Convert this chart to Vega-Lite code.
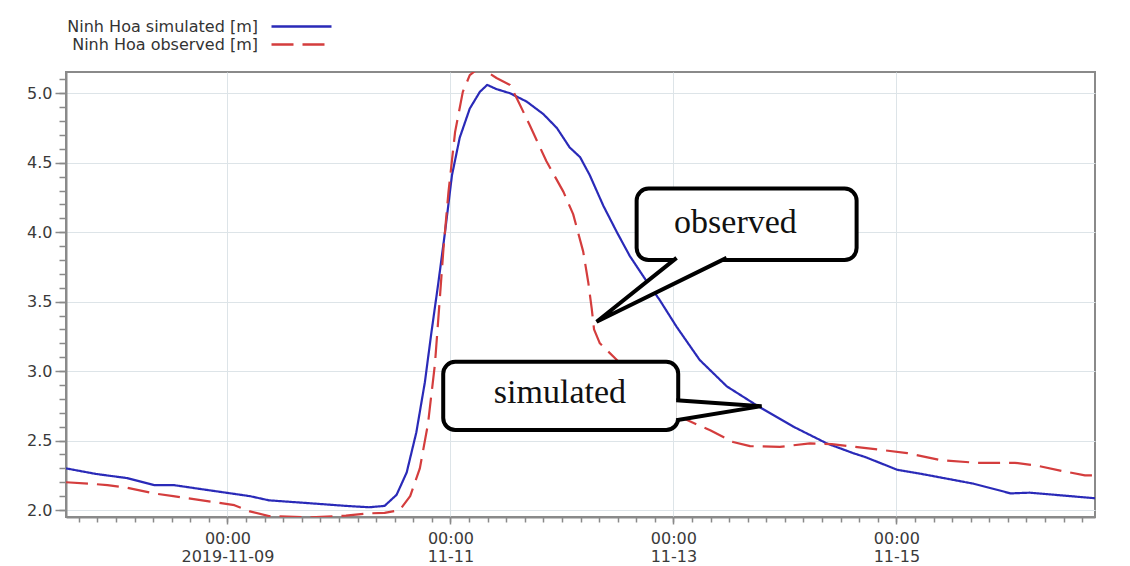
{
  "$schema": "https://vega.github.io/schema/vega-lite/v6.json",
  "width": 1029,
  "height": 445,
  "autosize": {"type": "none"},
  "padding": {"left": 66, "top": 72, "right": 35, "bottom": 49},
  "background": "white",
  "datasets": {
    "series": [
      {"time": "2019-11-07T13:15:00Z", "value": 2.30, "series": "Ninh Hoa simulated [m]"},
      {"time": "2019-11-07T19:40:00Z", "value": 2.26, "series": "Ninh Hoa simulated [m]"},
      {"time": "2019-11-08T02:25:00Z", "value": 2.23, "series": "Ninh Hoa simulated [m]"},
      {"time": "2019-11-08T08:10:00Z", "value": 2.18, "series": "Ninh Hoa simulated [m]"},
      {"time": "2019-11-08T12:20:00Z", "value": 2.18, "series": "Ninh Hoa simulated [m]"},
      {"time": "2019-11-08T20:35:00Z", "value": 2.14, "series": "Ninh Hoa simulated [m]"},
      {"time": "2019-11-09T04:50:00Z", "value": 2.10, "series": "Ninh Hoa simulated [m]"},
      {"time": "2019-11-09T08:55:00Z", "value": 2.07, "series": "Ninh Hoa simulated [m]"},
      {"time": "2019-11-09T17:20:00Z", "value": 2.05, "series": "Ninh Hoa simulated [m]"},
      {"time": "2019-11-10T01:30:00Z", "value": 2.03, "series": "Ninh Hoa simulated [m]"},
      {"time": "2019-11-10T06:30:00Z", "value": 2.02, "series": "Ninh Hoa simulated [m]"},
      {"time": "2019-11-10T09:50:00Z", "value": 2.03, "series": "Ninh Hoa simulated [m]"},
      {"time": "2019-11-10T12:25:00Z", "value": 2.11, "series": "Ninh Hoa simulated [m]"},
      {"time": "2019-11-10T14:35:00Z", "value": 2.27, "series": "Ninh Hoa simulated [m]"},
      {"time": "2019-11-10T16:40:00Z", "value": 2.56, "series": "Ninh Hoa simulated [m]"},
      {"time": "2019-11-10T18:30:00Z", "value": 2.92, "series": "Ninh Hoa simulated [m]"},
      {"time": "2019-11-10T19:55:00Z", "value": 3.28, "series": "Ninh Hoa simulated [m]"},
      {"time": "2019-11-10T21:25:00Z", "value": 3.64, "series": "Ninh Hoa simulated [m]"},
      {"time": "2019-11-10T22:50:00Z", "value": 4.00, "series": "Ninh Hoa simulated [m]"},
      {"time": "2019-11-11T00:20:00Z", "value": 4.41, "series": "Ninh Hoa simulated [m]"},
      {"time": "2019-11-11T02:00:00Z", "value": 4.68, "series": "Ninh Hoa simulated [m]"},
      {"time": "2019-11-11T04:10:00Z", "value": 4.89, "series": "Ninh Hoa simulated [m]"},
      {"time": "2019-11-11T06:20:00Z", "value": 5.01, "series": "Ninh Hoa simulated [m]"},
      {"time": "2019-11-11T07:55:00Z", "value": 5.06, "series": "Ninh Hoa simulated [m]"},
      {"time": "2019-11-11T09:55:00Z", "value": 5.03, "series": "Ninh Hoa simulated [m]"},
      {"time": "2019-11-11T12:50:00Z", "value": 5.00, "series": "Ninh Hoa simulated [m]"},
      {"time": "2019-11-11T16:25:00Z", "value": 4.94, "series": "Ninh Hoa simulated [m]"},
      {"time": "2019-11-11T20:00:00Z", "value": 4.85, "series": "Ninh Hoa simulated [m]"},
      {"time": "2019-11-11T22:55:00Z", "value": 4.75, "series": "Ninh Hoa simulated [m]"},
      {"time": "2019-11-12T01:40:00Z", "value": 4.61, "series": "Ninh Hoa simulated [m]"},
      {"time": "2019-11-12T03:55:00Z", "value": 4.54, "series": "Ninh Hoa simulated [m]"},
      {"time": "2019-11-12T06:00:00Z", "value": 4.41, "series": "Ninh Hoa simulated [m]"},
      {"time": "2019-11-12T08:55:00Z", "value": 4.19, "series": "Ninh Hoa simulated [m]"},
      {"time": "2019-11-12T11:50:00Z", "value": 4.00, "series": "Ninh Hoa simulated [m]"},
      {"time": "2019-11-12T14:35:00Z", "value": 3.83, "series": "Ninh Hoa simulated [m]"},
      {"time": "2019-11-12T18:10:00Z", "value": 3.65, "series": "Ninh Hoa simulated [m]"},
      {"time": "2019-11-12T21:05:00Z", "value": 3.51, "series": "Ninh Hoa simulated [m]"},
      {"time": "2019-11-13T00:40:00Z", "value": 3.32, "series": "Ninh Hoa simulated [m]"},
      {"time": "2019-11-13T05:40:00Z", "value": 3.08, "series": "Ninh Hoa simulated [m]"},
      {"time": "2019-11-13T11:30:00Z", "value": 2.89, "series": "Ninh Hoa simulated [m]"},
      {"time": "2019-11-13T18:35:00Z", "value": 2.74, "series": "Ninh Hoa simulated [m]"},
      {"time": "2019-11-14T01:50:00Z", "value": 2.60, "series": "Ninh Hoa simulated [m]"},
      {"time": "2019-11-14T09:00:00Z", "value": 2.48, "series": "Ninh Hoa simulated [m]"},
      {"time": "2019-11-14T14:40:00Z", "value": 2.41, "series": "Ninh Hoa simulated [m]"},
      {"time": "2019-11-14T17:25:00Z", "value": 2.38, "series": "Ninh Hoa simulated [m]"},
      {"time": "2019-11-15T00:10:00Z", "value": 2.29, "series": "Ninh Hoa simulated [m]"},
      {"time": "2019-11-15T05:25:00Z", "value": 2.26, "series": "Ninh Hoa simulated [m]"},
      {"time": "2019-11-15T16:35:00Z", "value": 2.19, "series": "Ninh Hoa simulated [m]"},
      {"time": "2019-11-16T00:35:00Z", "value": 2.12, "series": "Ninh Hoa simulated [m]"},
      {"time": "2019-11-16T04:40:00Z", "value": 2.125, "series": "Ninh Hoa simulated [m]"},
      {"time": "2019-11-16T13:30:00Z", "value": 2.10, "series": "Ninh Hoa simulated [m]"},
      {"time": "2019-11-16T18:45:00Z", "value": 2.085, "series": "Ninh Hoa simulated [m]"},
      {"time": "2019-11-07T13:15:00Z", "value": 2.20, "series": "Ninh Hoa observed  [m]"},
      {"time": "2019-11-07T18:05:00Z", "value": 2.19, "series": "Ninh Hoa observed  [m]"},
      {"time": "2019-11-07T22:10:00Z", "value": 2.18, "series": "Ninh Hoa observed  [m]"},
      {"time": "2019-11-08T02:25:00Z", "value": 2.16, "series": "Ninh Hoa observed  [m]"},
      {"time": "2019-11-08T08:10:00Z", "value": 2.12, "series": "Ninh Hoa observed  [m]"},
      {"time": "2019-11-08T12:20:00Z", "value": 2.10, "series": "Ninh Hoa observed  [m]"},
      {"time": "2019-11-08T20:35:00Z", "value": 2.06, "series": "Ninh Hoa observed  [m]"},
      {"time": "2019-11-09T01:30:00Z", "value": 2.035, "series": "Ninh Hoa observed  [m]"},
      {"time": "2019-11-09T04:50:00Z", "value": 1.99, "series": "Ninh Hoa observed  [m]"},
      {"time": "2019-11-09T08:55:00Z", "value": 1.957, "series": "Ninh Hoa observed  [m]"},
      {"time": "2019-11-09T17:20:00Z", "value": 1.947, "series": "Ninh Hoa observed  [m]"},
      {"time": "2019-11-10T01:30:00Z", "value": 1.96, "series": "Ninh Hoa observed  [m]"},
      {"time": "2019-11-10T06:30:00Z", "value": 1.976, "series": "Ninh Hoa observed  [m]"},
      {"time": "2019-11-10T09:50:00Z", "value": 1.98, "series": "Ninh Hoa observed  [m]"},
      {"time": "2019-11-10T13:05:00Z", "value": 2.00, "series": "Ninh Hoa observed  [m]"},
      {"time": "2019-11-10T15:20:00Z", "value": 2.10, "series": "Ninh Hoa observed  [m]"},
      {"time": "2019-11-10T17:25:00Z", "value": 2.30, "series": "Ninh Hoa observed  [m]"},
      {"time": "2019-11-10T19:10:00Z", "value": 2.62, "series": "Ninh Hoa observed  [m]"},
      {"time": "2019-11-10T20:40:00Z", "value": 3.05, "series": "Ninh Hoa observed  [m]"},
      {"time": "2019-11-10T21:40:00Z", "value": 3.50, "series": "Ninh Hoa observed  [m]"},
      {"time": "2019-11-10T22:30:00Z", "value": 3.88, "series": "Ninh Hoa observed  [m]"},
      {"time": "2019-11-10T23:35:00Z", "value": 4.29, "series": "Ninh Hoa observed  [m]"},
      {"time": "2019-11-11T01:00:00Z", "value": 4.72, "series": "Ninh Hoa observed  [m]"},
      {"time": "2019-11-11T02:40:00Z", "value": 5.01, "series": "Ninh Hoa observed  [m]"},
      {"time": "2019-11-11T04:10:00Z", "value": 5.13, "series": "Ninh Hoa observed  [m]"},
      {"time": "2019-11-11T05:40:00Z", "value": 5.17, "series": "Ninh Hoa observed  [m]"},
      {"time": "2019-11-11T07:35:00Z", "value": 5.16, "series": "Ninh Hoa observed  [m]"},
      {"time": "2019-11-11T09:55:00Z", "value": 5.11, "series": "Ninh Hoa observed  [m]"},
      {"time": "2019-11-11T12:50:00Z", "value": 5.06, "series": "Ninh Hoa observed  [m]"},
      {"time": "2019-11-11T14:20:00Z", "value": 4.96, "series": "Ninh Hoa observed  [m]"},
      {"time": "2019-11-11T17:05:00Z", "value": 4.77, "series": "Ninh Hoa observed  [m]"},
      {"time": "2019-11-11T20:40:00Z", "value": 4.51, "series": "Ninh Hoa observed  [m]"},
      {"time": "2019-11-12T00:20:00Z", "value": 4.29, "series": "Ninh Hoa observed  [m]"},
      {"time": "2019-11-12T02:25:00Z", "value": 4.13, "series": "Ninh Hoa observed  [m]"},
      {"time": "2019-11-12T04:35:00Z", "value": 3.86, "series": "Ninh Hoa observed  [m]"},
      {"time": "2019-11-12T05:40:00Z", "value": 3.64, "series": "Ninh Hoa observed  [m]"},
      {"time": "2019-11-12T06:25:00Z", "value": 3.45, "series": "Ninh Hoa observed  [m]"},
      {"time": "2019-11-12T06:55:00Z", "value": 3.30, "series": "Ninh Hoa observed  [m]"},
      {"time": "2019-11-12T08:10:00Z", "value": 3.20, "series": "Ninh Hoa observed  [m]"},
      {"time": "2019-11-12T11:50:00Z", "value": 3.08, "series": "Ninh Hoa observed  [m]"},
      {"time": "2019-11-12T18:55:00Z", "value": 2.83, "series": "Ninh Hoa observed  [m]"},
      {"time": "2019-11-13T02:50:00Z", "value": 2.65, "series": "Ninh Hoa observed  [m]"},
      {"time": "2019-11-13T06:05:00Z", "value": 2.60, "series": "Ninh Hoa observed  [m]"},
      {"time": "2019-11-13T07:55:00Z", "value": 2.575, "series": "Ninh Hoa observed  [m]"},
      {"time": "2019-11-13T12:50:00Z", "value": 2.49, "series": "Ninh Hoa observed  [m]"},
      {"time": "2019-11-13T16:30:00Z", "value": 2.46, "series": "Ninh Hoa observed  [m]"},
      {"time": "2019-11-13T22:55:00Z", "value": 2.455, "series": "Ninh Hoa observed  [m]"},
      {"time": "2019-11-14T05:25:00Z", "value": 2.48, "series": "Ninh Hoa observed  [m]"},
      {"time": "2019-11-14T10:05:00Z", "value": 2.475, "series": "Ninh Hoa observed  [m]"},
      {"time": "2019-11-14T21:25:00Z", "value": 2.43, "series": "Ninh Hoa observed  [m]"},
      {"time": "2019-11-15T02:20:00Z", "value": 2.41, "series": "Ninh Hoa observed  [m]"},
      {"time": "2019-11-15T09:25:00Z", "value": 2.36, "series": "Ninh Hoa observed  [m]"},
      {"time": "2019-11-15T17:20:00Z", "value": 2.34, "series": "Ninh Hoa observed  [m]"},
      {"time": "2019-11-16T01:30:00Z", "value": 2.34, "series": "Ninh Hoa observed  [m]"},
      {"time": "2019-11-16T06:10:00Z", "value": 2.32, "series": "Ninh Hoa observed  [m]"},
      {"time": "2019-11-16T11:50:00Z", "value": 2.28, "series": "Ninh Hoa observed  [m]"},
      {"time": "2019-11-16T16:35:00Z", "value": 2.25, "series": "Ninh Hoa observed  [m]"},
      {"time": "2019-11-16T18:45:00Z", "value": 2.25, "series": "Ninh Hoa observed  [m]"}
    ],
    "boxes": [
      {"name": "observed", "time": "2019-11-12T16:05:00Z", "time2": "2019-11-14T15:26:00Z", "value": 4.314, "value2": 3.799},
      {"name": "simulated", "time": "2019-11-10T22:27:00Z", "time2": "2019-11-13T01:02:00Z", "value": 3.067, "value2": 2.576}
    ],
    "pointers": [
      {"callout": "observed", "ord": 1, "time": "2019-11-13T00:41:00Z", "value": 3.815},
      {"callout": "observed", "ord": 2, "time": "2019-11-12T07:28:00Z", "value": 3.355},
      {"callout": "observed", "ord": 3, "time": "2019-11-13T11:27:00Z", "value": 3.815},
      {"callout": "simulated", "ord": 1, "time": "2019-11-13T00:36:00Z", "value": 2.791},
      {"callout": "simulated", "ord": 2, "time": "2019-11-13T18:59:00Z", "value": 2.748},
      {"callout": "simulated", "ord": 3, "time": "2019-11-13T00:36:00Z", "value": 2.647}
    ],
    "labels": [
      {"text": "observed", "time": "2019-11-13T13:21:00Z", "value": 3.995},
      {"text": "simulated", "time": "2019-11-11T23:34:00Z", "value": 2.77}
    ]
  },
  "resolve": {"axis": {"x": "independent", "y": "independent"}},
  "layer": [
    {
      "data": {"name": "series"},
      "mark": {"type": "line", "clip": true, "strokeWidth": 2.2, "strokeJoin": "round"},
      "encoding": {
        "x": {
          "field": "time", "type": "temporal", "title": null,
          "scale": {"type": "utc", "nice": false},
          "axis": {
            "orient": "bottom",
            "values": [1573257600000, 1573430400000, 1573603200000, 1573776000000],
            "format": "%H:%M",
            "grid": true,
            "tickSize": 7,
            "labelPadding": 6,
            "labelFlush": false
          }
        },
        "y": {
          "field": "value", "type": "quantitative", "title": null,
          "scale": {"domain": [1.95, 5.153], "nice": false, "zero": false},
          "axis": {
            "orient": "left",
            "values": [2.0, 2.5, 3.0, 3.5, 4.0, 4.5, 5.0],
            "format": ".1f",
            "grid": true,
            "tickSize": 11,
            "labelPadding": 3
          }
        },
        "color": {
          "field": "series", "type": "nominal",
          "scale": {"domain": ["Ninh Hoa simulated [m]", "Ninh Hoa observed  [m]"], "range": ["#2a2ab8", "#d43d3d"]},
          "legend": {
            "title": null, "orient": "none", "legendX": 226, "legendY": -55,
            "symbolType": "M-3.75,0H3.75", "symbolSize": 256, "symbolStrokeWidth": 2.5,
            "labelAlign": "right", "labelOffset": -53,
            "labelFont": "DejaVu Sans", "labelFontSize": 16, "labelColor": "#333333", "labelLimit": 400,
            "rowPadding": -2
          }
        },
        "strokeDash": {
          "field": "series", "type": "nominal",
          "scale": {"domain": ["Ninh Hoa simulated [m]", "Ninh Hoa observed  [m]"], "range": [[1, 0], [22, 9]]},
          "legend": {
            "title": null, "orient": "none", "legendX": 226, "legendY": -55,
            "symbolType": "M-3.75,0H3.75", "symbolSize": 256, "symbolStrokeWidth": 2.5,
            "labelAlign": "right", "labelOffset": -53,
            "labelFont": "DejaVu Sans", "labelFontSize": 16, "labelColor": "#333333", "labelLimit": 400,
            "rowPadding": -2
          }
        }
      }
    },
    {
      "data": {"name": "boxes"},
      "mark": {"type": "rect", "fill": "white", "stroke": "black", "strokeWidth": 4, "cornerRadius": 12},
      "encoding": {
        "x": {
          "field": "time", "type": "temporal", "title": null,
          "scale": {"type": "utc", "nice": false},
          "axis": {
            "orient": "bottom",
            "values": [1573257600000, 1573430400000, 1573603200000, 1573776000000],
            "format": "%m-%d",
            "labelExpr": "datum.label == '11-09' ? '2019-11-09' : datum.label",
            "grid": false, "ticks": false, "domain": false, "tickSize": 0,
            "labelPadding": 31,
            "labelFlush": false
          }
        },
        "x2": {"field": "time2"},
        "y": {
          "field": "value", "type": "quantitative", "title": null,
          "scale": {"domain": [1.95, 5.153], "nice": false, "zero": false},
          "axis": {
            "orient": "left",
            "values": [2.0, 2.1, 2.2, 2.3, 2.4, 2.5, 2.6, 2.7, 2.8, 2.9, 3.0, 3.1, 3.2, 3.3, 3.4, 3.5, 3.6, 3.7, 3.8, 3.9, 4.0, 4.1, 4.2, 4.3, 4.4, 4.5, 4.6, 4.7, 4.8, 4.9, 5.0, 5.1],
            "labels": false, "grid": false, "domain": false, "tickSize": 7
          }
        },
        "y2": {"field": "value2"}
      }
    },
    {
      "data": {"name": "pointers"},
      "mark": {"type": "line", "fill": "white", "stroke": "black", "strokeWidth": 4, "strokeJoin": "miter"},
      "encoding": {
        "x": {
          "field": "time", "type": "temporal", "title": null,
          "scale": {"type": "utc", "nice": false},
          "axis": {
            "orient": "bottom",
            "values": [1573142400000, 1573156800000, 1573171200000, 1573185600000, 1573200000000, 1573214400000, 1573228800000, 1573243200000, 1573257600000, 1573272000000, 1573286400000, 1573300800000, 1573315200000, 1573329600000, 1573344000000, 1573358400000, 1573372800000, 1573387200000, 1573401600000, 1573416000000, 1573430400000, 1573444800000, 1573459200000, 1573473600000, 1573488000000, 1573502400000, 1573516800000, 1573531200000, 1573545600000, 1573560000000, 1573574400000, 1573588800000, 1573603200000, 1573617600000, 1573632000000, 1573646400000, 1573660800000, 1573675200000, 1573689600000, 1573704000000, 1573718400000, 1573732800000, 1573747200000, 1573761600000, 1573776000000, 1573790400000, 1573804800000, 1573819200000, 1573833600000, 1573848000000, 1573862400000, 1573876800000, 1573891200000, 1573905600000, 1573920000000],
            "labels": false, "grid": false, "domain": false, "tickSize": 5
          }
        },
        "y": {
          "field": "value", "type": "quantitative", "title": null,
          "scale": {"domain": [1.95, 5.153], "nice": false, "zero": false},
          "axis": null
        },
        "detail": {"field": "callout", "type": "nominal"},
        "order": {"field": "ord", "type": "quantitative"}
      }
    },
    {
      "data": {"name": "labels"},
      "mark": {"type": "text", "font": "Liberation Serif", "fontSize": 34, "color": "#111111", "align": "center", "baseline": "alphabetic"},
      "encoding": {
        "x": {"field": "time", "type": "temporal", "scale": {"type": "utc", "nice": false}, "axis": null},
        "y": {"field": "value", "type": "quantitative", "scale": {"domain": [1.95, 5.153], "nice": false, "zero": false}, "axis": null},
        "text": {"field": "text", "type": "nominal"}
      }
    }
  ],
  "config": {
    "view": {"stroke": "#8a8a8a", "strokeWidth": 2},
    "axis": {
      "domainColor": "#8a8a8a",
      "domainWidth": 2,
      "tickColor": "#8a8a8a",
      "tickWidth": 1.5,
      "gridColor": "#dde4e8",
      "gridWidth": 1,
      "labelFont": "DejaVu Sans",
      "labelFontSize": 16,
      "labelColor": "#3a3a3a"
    }
  }
}
